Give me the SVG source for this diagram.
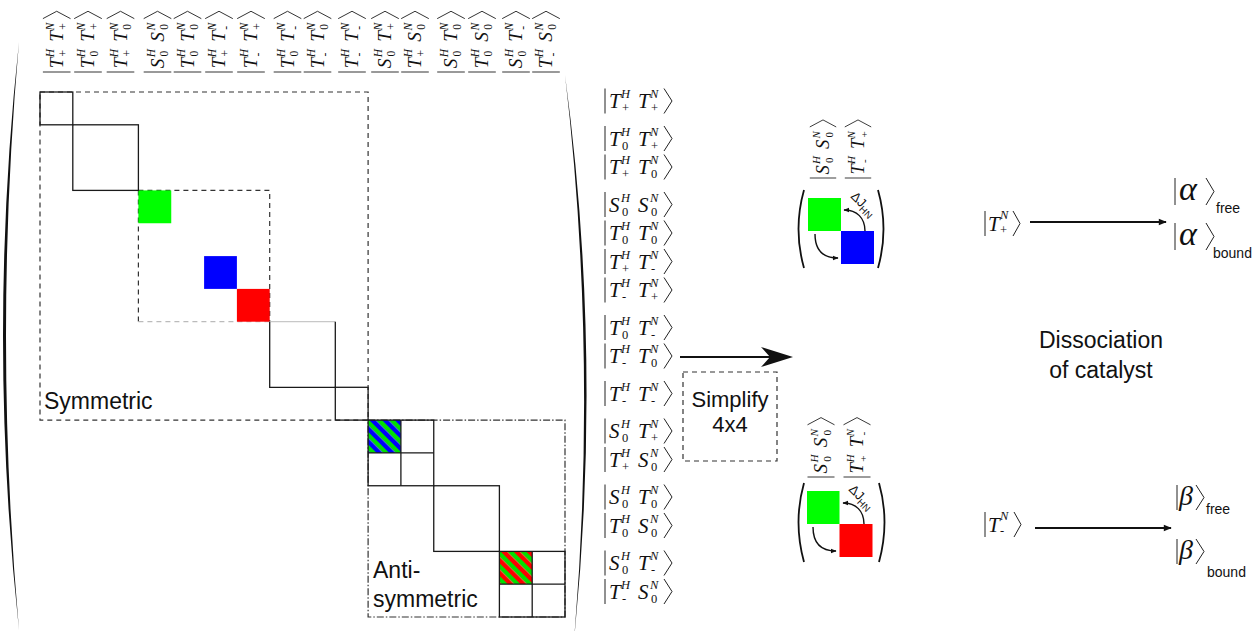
<svg xmlns="http://www.w3.org/2000/svg" width="1255" height="631" viewBox="0 0 1255 631">
<style>
.ln{fill:none;stroke:#1a1a1a;stroke-width:1.3}
.lg{fill:none;stroke:#c8c8c8;stroke-width:1.3}
.ds{fill:none;stroke:#333;stroke-width:1.2;stroke-dasharray:5 4}
.dg{fill:none;stroke:#bbb;stroke-width:1.2;stroke-dasharray:5 4}
.dd{fill:none;stroke:#333;stroke-width:1.2;stroke-dasharray:7 2 1.5 2}
.m{font-family:"Liberation Serif",serif;font-style:italic;font-size:21px;fill:#111}
.sp{font-family:"Liberation Serif",serif;font-style:italic;font-size:12.5px;fill:#111}
.sb{font-family:"Liberation Serif",serif;font-size:12.5px;fill:#111}
.lab{font-family:"Liberation Sans",Arial,sans-serif;font-size:23px;fill:#111}
.sm{font-family:"Liberation Sans",Arial,sans-serif;font-size:14px;fill:#111}
.kb{fill:none;stroke:#222;stroke-width:1}
.ar{fill:none;stroke:#111;stroke-width:1.4}
</style>
<defs>
<path id="kb" d="M0-12.5V12.5M59-12.5L67 0L59 12.5" class="kb"/>
<path id="kbh" d="M0-15V15M58-15L66 0L58 15" class="kb"/>
<pattern id="sbg" width="9" height="9" patternUnits="userSpaceOnUse" patternTransform="rotate(45)"><rect width="9" height="4.5" fill="#00e000"/><rect y="4.5" width="9" height="4.5" fill="#0000ff"/></pattern>
<pattern id="srg" width="9" height="9" patternUnits="userSpaceOnUse" patternTransform="rotate(45)"><rect width="9" height="4.5" fill="#00e000"/><rect y="4.5" width="9" height="4.5" fill="#ff0000"/></pattern>
<marker id="ah" viewBox="0 0 10 10" refX="9" refY="5" markerWidth="6" markerHeight="6" orient="auto" markerUnits="userSpaceOnUse"><path d="M0 1L10 5L0 9z" fill="#111"/></marker>
<marker id="ah2" viewBox="0 0 10 10" refX="9" refY="5" markerWidth="9" markerHeight="8" orient="auto" markerUnits="userSpaceOnUse"><path d="M0 1L10 5L0 9z" fill="#111"/></marker>
</defs>
<rect width="1255" height="631" fill="#fff"/>

<g id="matrix-parens" fill="#111">
<path d="M19 42Q-13 336 19 630Q-7 336 19 42Z"/>
<path d="M565 75Q603 357 574 640Q598 357 565 75Z"/>
</g>

<g id="matrix">
<rect class="ds" x="40" y="92" width="328.1" height="328.1"/>
<rect class="dd" x="368.1" y="420.1" width="196.9" height="196.9"/>
<path class="ds" d="M138.4 190.4H269.7V321.7M138.4 190.4V321.7"/>
<path class="dg" d="M138.4 321.7H269.7"/>
<rect fill="#00ff00" x="138.4" y="190.4" width="32.85" height="32.85"/>
<rect fill="#0000ff" x="204.1" y="256.1" width="32.8" height="32.8"/>
<rect fill="#ff0000" x="236.9" y="288.9" width="32.8" height="32.8"/>
<rect fill="url(#sbg)" x="368.1" y="420.1" width="32.8" height="32.8"/>
<rect fill="url(#srg)" x="499.4" y="551.4" width="32.8" height="32.8"/>
<rect class="ln" x="40" y="92" width="32.8" height="32.8"/>
<rect class="ln" x="72.8" y="124.8" width="65.6" height="65.6"/>
<path class="lg" d="M269.7 321.7H335.3"/>
<path class="ln" d="M335.3 321.7V387.3H269.7V321.7"/>
<rect class="ln" x="335.3" y="387.3" width="32.8" height="32.8"/>
<rect class="ln" x="368.1" y="420.1" width="65.65" height="65.65"/>
<path class="ln" d="M400.9 420.1V485.75M368.1 452.9H433.75"/>
<rect class="ln" x="433.75" y="485.75" width="65.65" height="65.65"/>
<rect class="ln" x="499.4" y="551.4" width="65.6" height="65.6"/>
<path class="ln" d="M532.2 551.4V617M499.4 584.2H565"/>
<text class="lab" x="44" y="409">Symmetric</text>
<text class="lab" x="373" y="578">Anti-</text>
<text class="lab" x="373" y="607">symmetric</text>
</g>

<g id="col-kets">
<g transform="translate(56.7,72) rotate(-90) scale(0.92)"><use href="#kbh"/><text class="m" x="4" y="7">T</text><text class="sp" x="16" y="-3">H</text><text class="sb" x="17" y="11">+</text><text class="m" x="33" y="7">T</text><text class="sp" x="45" y="-3">N</text><text class="sb" x="46" y="11">+</text></g>
<g transform="translate(88,72) rotate(-90) scale(0.92)"><use href="#kbh"/><text class="m" x="4" y="7">T</text><text class="sp" x="16" y="-3">H</text><text class="sb" x="17" y="11">0</text><text class="m" x="33" y="7">T</text><text class="sp" x="45" y="-3">N</text><text class="sb" x="46" y="11">+</text></g>
<g transform="translate(120.5,72) rotate(-90) scale(0.92)"><use href="#kbh"/><text class="m" x="4" y="7">T</text><text class="sp" x="16" y="-3">H</text><text class="sb" x="17" y="11">+</text><text class="m" x="33" y="7">T</text><text class="sp" x="45" y="-3">N</text><text class="sb" x="46" y="11">0</text></g>
<g transform="translate(157.5,72) rotate(-90) scale(0.92)"><use href="#kbh"/><text class="m" x="4" y="7">S</text><text class="sp" x="16" y="-3">H</text><text class="sb" x="17" y="11">0</text><text class="m" x="33" y="7">S</text><text class="sp" x="45" y="-3">N</text><text class="sb" x="46" y="11">0</text></g>
<g transform="translate(187.5,72) rotate(-90) scale(0.92)"><use href="#kbh"/><text class="m" x="4" y="7">T</text><text class="sp" x="16" y="-3">H</text><text class="sb" x="17" y="11">0</text><text class="m" x="33" y="7">T</text><text class="sp" x="45" y="-3">N</text><text class="sb" x="46" y="11">0</text></g>
<g transform="translate(219,72) rotate(-90) scale(0.92)"><use href="#kbh"/><text class="m" x="4" y="7">T</text><text class="sp" x="16" y="-3">H</text><text class="sb" x="17" y="11">+</text><text class="m" x="33" y="7">T</text><text class="sp" x="45" y="-3">N</text><text class="sb" x="46" y="11">-</text></g>
<g transform="translate(251,72) rotate(-90) scale(0.92)"><use href="#kbh"/><text class="m" x="4" y="7">T</text><text class="sp" x="16" y="-3">H</text><text class="sb" x="17" y="11">-</text><text class="m" x="33" y="7">T</text><text class="sp" x="45" y="-3">N</text><text class="sb" x="46" y="11">+</text></g>
<g transform="translate(287.5,72) rotate(-90) scale(0.92)"><use href="#kbh"/><text class="m" x="4" y="7">T</text><text class="sp" x="16" y="-3">H</text><text class="sb" x="17" y="11">0</text><text class="m" x="33" y="7">T</text><text class="sp" x="45" y="-3">N</text><text class="sb" x="46" y="11">-</text></g>
<g transform="translate(317.5,72) rotate(-90) scale(0.92)"><use href="#kbh"/><text class="m" x="4" y="7">T</text><text class="sp" x="16" y="-3">H</text><text class="sb" x="17" y="11">-</text><text class="m" x="33" y="7">T</text><text class="sp" x="45" y="-3">N</text><text class="sb" x="46" y="11">0</text></g>
<g transform="translate(352,72) rotate(-90) scale(0.92)"><use href="#kbh"/><text class="m" x="4" y="7">T</text><text class="sp" x="16" y="-3">H</text><text class="sb" x="17" y="11">-</text><text class="m" x="33" y="7">T</text><text class="sp" x="45" y="-3">N</text><text class="sb" x="46" y="11">-</text></g>
<g transform="translate(385,72) rotate(-90) scale(0.92)"><use href="#kbh"/><text class="m" x="4" y="7">S</text><text class="sp" x="16" y="-3">H</text><text class="sb" x="17" y="11">0</text><text class="m" x="33" y="7">T</text><text class="sp" x="45" y="-3">N</text><text class="sb" x="46" y="11">+</text></g>
<g transform="translate(415,72) rotate(-90) scale(0.92)"><use href="#kbh"/><text class="m" x="4" y="7">T</text><text class="sp" x="16" y="-3">H</text><text class="sb" x="17" y="11">+</text><text class="m" x="33" y="7">S</text><text class="sp" x="45" y="-3">N</text><text class="sb" x="46" y="11">0</text></g>
<g transform="translate(451,72) rotate(-90) scale(0.92)"><use href="#kbh"/><text class="m" x="4" y="7">S</text><text class="sp" x="16" y="-3">H</text><text class="sb" x="17" y="11">0</text><text class="m" x="33" y="7">T</text><text class="sp" x="45" y="-3">N</text><text class="sb" x="46" y="11">0</text></g>
<g transform="translate(482,72) rotate(-90) scale(0.92)"><use href="#kbh"/><text class="m" x="4" y="7">T</text><text class="sp" x="16" y="-3">H</text><text class="sb" x="17" y="11">0</text><text class="m" x="33" y="7">S</text><text class="sp" x="45" y="-3">N</text><text class="sb" x="46" y="11">0</text></g>
<g transform="translate(516,72) rotate(-90) scale(0.92)"><use href="#kbh"/><text class="m" x="4" y="7">S</text><text class="sp" x="16" y="-3">H</text><text class="sb" x="17" y="11">0</text><text class="m" x="33" y="7">T</text><text class="sp" x="45" y="-3">N</text><text class="sb" x="46" y="11">-</text></g>
<g transform="translate(546,72) rotate(-90) scale(0.92)"><use href="#kbh"/><text class="m" x="4" y="7">T</text><text class="sp" x="16" y="-3">H</text><text class="sb" x="17" y="11">-</text><text class="m" x="33" y="7">S</text><text class="sp" x="45" y="-3">N</text><text class="sb" x="46" y="11">0</text></g>
</g>

<g id="row-kets">
<g transform="translate(605,101)"><use href="#kb"/><text class="m" x="4" y="7">T</text><text class="sp" x="16" y="-3">H</text><text class="sb" x="17" y="11">+</text><text class="m" x="33" y="7">T</text><text class="sp" x="45" y="-3">N</text><text class="sb" x="46" y="11">+</text></g>
<g transform="translate(605,138.5)"><use href="#kb"/><text class="m" x="4" y="7">T</text><text class="sp" x="16" y="-3">H</text><text class="sb" x="17" y="11">0</text><text class="m" x="33" y="7">T</text><text class="sp" x="45" y="-3">N</text><text class="sb" x="46" y="11">+</text></g>
<g transform="translate(605,167)"><use href="#kb"/><text class="m" x="4" y="7">T</text><text class="sp" x="16" y="-3">H</text><text class="sb" x="17" y="11">+</text><text class="m" x="33" y="7">T</text><text class="sp" x="45" y="-3">N</text><text class="sb" x="46" y="11">0</text></g>
<g transform="translate(605,204.5)"><use href="#kb"/><text class="m" x="4" y="7">S</text><text class="sp" x="16" y="-3">H</text><text class="sb" x="17" y="11">0</text><text class="m" x="33" y="7">S</text><text class="sp" x="45" y="-3">N</text><text class="sb" x="46" y="11">0</text></g>
<g transform="translate(605,233)"><use href="#kb"/><text class="m" x="4" y="7">T</text><text class="sp" x="16" y="-3">H</text><text class="sb" x="17" y="11">0</text><text class="m" x="33" y="7">T</text><text class="sp" x="45" y="-3">N</text><text class="sb" x="46" y="11">0</text></g>
<g transform="translate(605,261.5)"><use href="#kb"/><text class="m" x="4" y="7">T</text><text class="sp" x="16" y="-3">H</text><text class="sb" x="17" y="11">+</text><text class="m" x="33" y="7">T</text><text class="sp" x="45" y="-3">N</text><text class="sb" x="46" y="11">-</text></g>
<g transform="translate(605,290)"><use href="#kb"/><text class="m" x="4" y="7">T</text><text class="sp" x="16" y="-3">H</text><text class="sb" x="17" y="11">-</text><text class="m" x="33" y="7">T</text><text class="sp" x="45" y="-3">N</text><text class="sb" x="46" y="11">+</text></g>
<g transform="translate(605,327.5)"><use href="#kb"/><text class="m" x="4" y="7">T</text><text class="sp" x="16" y="-3">H</text><text class="sb" x="17" y="11">0</text><text class="m" x="33" y="7">T</text><text class="sp" x="45" y="-3">N</text><text class="sb" x="46" y="11">-</text></g>
<g transform="translate(605,356)"><use href="#kb"/><text class="m" x="4" y="7">T</text><text class="sp" x="16" y="-3">H</text><text class="sb" x="17" y="11">-</text><text class="m" x="33" y="7">T</text><text class="sp" x="45" y="-3">N</text><text class="sb" x="46" y="11">0</text></g>
<g transform="translate(605,393.5)"><use href="#kb"/><text class="m" x="4" y="7">T</text><text class="sp" x="16" y="-3">H</text><text class="sb" x="17" y="11">-</text><text class="m" x="33" y="7">T</text><text class="sp" x="45" y="-3">N</text><text class="sb" x="46" y="11">-</text></g>
<g transform="translate(605,431)"><use href="#kb"/><text class="m" x="4" y="7">S</text><text class="sp" x="16" y="-3">H</text><text class="sb" x="17" y="11">0</text><text class="m" x="33" y="7">T</text><text class="sp" x="45" y="-3">N</text><text class="sb" x="46" y="11">+</text></g>
<g transform="translate(605,459.5)"><use href="#kb"/><text class="m" x="4" y="7">T</text><text class="sp" x="16" y="-3">H</text><text class="sb" x="17" y="11">+</text><text class="m" x="33" y="7">S</text><text class="sp" x="45" y="-3">N</text><text class="sb" x="46" y="11">0</text></g>
<g transform="translate(605,497)"><use href="#kb"/><text class="m" x="4" y="7">S</text><text class="sp" x="16" y="-3">H</text><text class="sb" x="17" y="11">0</text><text class="m" x="33" y="7">T</text><text class="sp" x="45" y="-3">N</text><text class="sb" x="46" y="11">0</text></g>
<g transform="translate(605,525.5)"><use href="#kb"/><text class="m" x="4" y="7">T</text><text class="sp" x="16" y="-3">H</text><text class="sb" x="17" y="11">0</text><text class="m" x="33" y="7">S</text><text class="sp" x="45" y="-3">N</text><text class="sb" x="46" y="11">0</text></g>
<g transform="translate(605,563)"><use href="#kb"/><text class="m" x="4" y="7">S</text><text class="sp" x="16" y="-3">H</text><text class="sb" x="17" y="11">0</text><text class="m" x="33" y="7">T</text><text class="sp" x="45" y="-3">N</text><text class="sb" x="46" y="11">-</text></g>
<g transform="translate(605,591.5)"><use href="#kb"/><text class="m" x="4" y="7">T</text><text class="sp" x="16" y="-3">H</text><text class="sb" x="17" y="11">-</text><text class="m" x="33" y="7">S</text><text class="sp" x="45" y="-3">N</text><text class="sb" x="46" y="11">0</text></g>
</g>

<g id="simplify">
<rect class="ds" x="683" y="372" width="94" height="89"/>
<text class="lab" x="730" y="407" text-anchor="middle" style="font-size:22px">Simplify</text>
<text class="lab" x="730" y="432" text-anchor="middle" style="font-size:22px">4x4</text>
</g>

<g id="matrix-alpha">
<g transform="translate(823,178) rotate(-90) scale(0.88)"><use href="#kbh"/><text class="m" x="4" y="7">S</text><text class="sp" x="16" y="-3">H</text><text class="sb" x="17" y="11">0</text><text class="m" x="33" y="7">S</text><text class="sp" x="45" y="-3">N</text><text class="sb" x="46" y="11">0</text></g>
<g transform="translate(858,178) rotate(-90) scale(0.88)"><use href="#kbh"/><text class="m" x="4" y="7">T</text><text class="sp" x="16" y="-3">H</text><text class="sb" x="17" y="11">-</text><text class="m" x="33" y="7">T</text><text class="sp" x="45" y="-3">N</text><text class="sb" x="46" y="11">+</text></g>
<path d="M804 190Q793 229 804 268" fill="none" stroke="#111" stroke-width="1.8"/>
<path d="M878 190Q889 229 878 268" fill="none" stroke="#111" stroke-width="1.8"/>
<rect fill="#00ff00" x="808" y="198" width="33" height="33"/>
<rect fill="#0000ff" x="841" y="231" width="33" height="33"/>
<path class="ar" d="M815 234C815 251 823 258 838 258" marker-end="url(#ah)"/>
<path class="ar" d="M865 231C865 218 857 210 844 210" marker-end="url(#ah)"/>
<text transform="translate(850,197) rotate(45)" font-family="Liberation Sans,Arial,sans-serif" font-size="13" fill="#111">ΔJ<tspan font-size="9.5" dy="3">HN</tspan></text>
</g>

<g id="matrix-beta">
<g transform="translate(821,477) rotate(-90) scale(0.9)"><use href="#kbh"/><text class="m" x="4" y="7">S</text><text class="sp" x="16" y="-3">H</text><text class="sb" x="17" y="11">0</text><text class="m" x="33" y="7">S</text><text class="sp" x="45" y="-3">N</text><text class="sb" x="46" y="11">0</text></g>
<g transform="translate(857,477) rotate(-90) scale(0.9)"><use href="#kbh"/><text class="m" x="4" y="7">T</text><text class="sp" x="16" y="-3">H</text><text class="sb" x="17" y="11">+</text><text class="m" x="33" y="7">T</text><text class="sp" x="45" y="-3">N</text><text class="sb" x="46" y="11">-</text></g>
<path d="M804 483Q793 522 804 562" fill="none" stroke="#111" stroke-width="1.8"/>
<path d="M879 483Q890 522 879 562" fill="none" stroke="#111" stroke-width="1.8"/>
<rect fill="#00ff00" x="807" y="491" width="32.5" height="33"/>
<rect fill="#ff0000" x="839.5" y="524" width="33" height="33"/>
<path class="ar" d="M813 527C813 544 821 551 836 551" marker-end="url(#ah)"/>
<path class="ar" d="M864 524C864 511 856 503 843 503" marker-end="url(#ah)"/>
<text transform="translate(848,490) rotate(45)" font-family="Liberation Sans,Arial,sans-serif" font-size="13" fill="#111">ΔJ<tspan font-size="9.5" dy="3">HN</tspan></text>
</g>

<g id="connectors">
<path d="M680 357H772" stroke="#111" stroke-width="2"/>
<path d="M793 357L761 347L770 357L761 367Z" fill="#111"/>
<path d="M1030 222H1166" stroke="#111" stroke-width="2" marker-end="url(#ah2)"/>
<path d="M1035 528H1171" stroke="#111" stroke-width="2" marker-end="url(#ah2)"/>
</g>

<g id="ket-tplus">
<path class="kb" d="M985 211V236M1013 211L1020 223.5L1013 236"/>
<text class="m" x="988" y="231">T</text><text class="sp" x="1000" y="219">N</text><text class="sb" x="1000" y="234">+</text>
</g>
<g id="ket-tminus">
<path class="kb" d="M985 512V537M1014 512L1021 524.5L1014 537"/>
<text class="m" x="988" y="532">T</text><text class="sp" x="1000" y="520">N</text><text class="sb" x="1000" y="535">-</text>
</g>
<g id="alpha-free">
<path class="kb" d="M1175 178V205M1206 178L1214 191.5L1206 205"/>
<text class="m" x="1179" y="200" style="font-size:34px">α</text>
<text class="sm" x="1216" y="213">free</text>
</g>
<g id="alpha-bound">
<path class="kb" d="M1175 223V250M1206 223L1214 236.5L1206 250"/>
<text class="m" x="1179" y="245" style="font-size:34px">α</text>
<text class="sm" x="1213" y="258">bound</text>
</g>
<g id="beta-free">
<path class="kb" d="M1177 485V510M1196 485L1204 497.5L1196 510"/>
<text class="m" x="1179" y="505" style="font-size:28px">β</text>
<text class="sm" x="1206" y="514">free</text>
</g>
<g id="beta-bound">
<path class="kb" d="M1177 539V564M1196 539L1204 551.5L1196 564"/>
<text class="m" x="1179" y="559" style="font-size:28px">β</text>
<text class="sm" x="1207" y="577">bound</text>
</g>
<g id="dissociation">
<text class="lab" x="1101" y="348" text-anchor="middle">Dissociation</text>
<text class="lab" x="1101" y="378" text-anchor="middle">of catalyst</text>
</g>
</svg>
